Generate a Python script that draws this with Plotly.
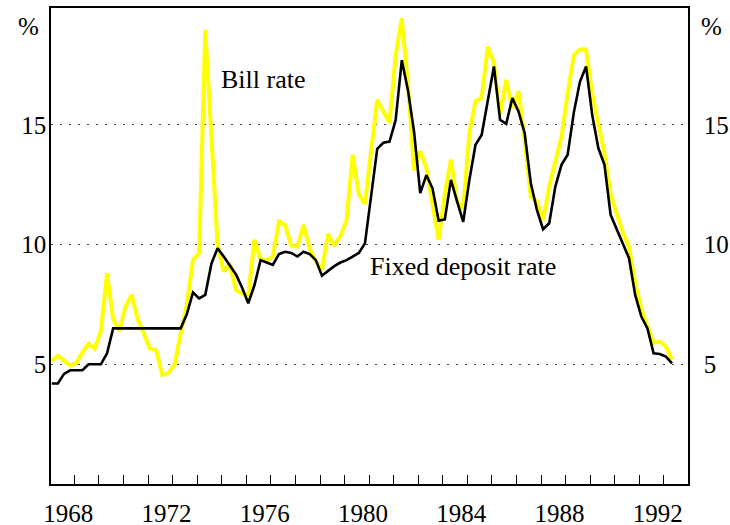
import pandas as pd
import plotly.graph_objects as go

# Quarterly observations, 1967 Q2 onwards
quarters = pd.period_range("1967Q2", periods=102, freq="Q")
x_years = [p.year + (p.quarter - 1) / 4 for p in quarters]

bill_rate = [
    5.15, 5.35, 5.15, 4.95, 5.05, 5.5, 5.85, 5.65, 6.4, 8.8,
    6.9, 6.4, 7.4, 7.9, 6.9, 6.25, 5.65, 5.6, 4.55, 4.63,
    4.97, 6.3, 7.5, 9.36, 9.64, 18.97, 14.4, 10.0, 8.87, 9.2,
    8.1, 7.95, 7.85, 10.2, 9.4, 9.35, 9.5, 10.96, 10.82, 9.95,
    9.92, 10.82, 9.85, 9.3, 8.94, 10.45, 9.95, 10.35, 11.0, 13.75,
    12.1, 11.7, 13.9, 16.05, 15.55, 15.1, 17.9, 19.45, 16.7, 13.1,
    13.9, 13.2, 11.7, 10.2, 12.1, 13.55, 11.8, 11.5, 14.65, 15.98,
    16.12, 18.27, 17.6, 15.42, 16.88, 15.7, 16.39, 14.38, 12.0, 11.8,
    11.03, 12.42, 13.47, 14.51, 16.3, 17.9, 18.15, 18.15, 16.3, 15.0,
    13.8, 12.1, 11.3, 10.5, 9.9, 8.4, 7.3, 6.6, 5.9, 5.95,
    5.75, 5.2,
]

fixed_deposit_rate = [
    4.2, 4.2, 4.6, 4.75, 4.75, 4.75, 5.0, 5.0, 5.0, 5.45,
    6.5, 6.5, 6.5, 6.5, 6.5, 6.5, 6.5, 6.5, 6.5, 6.5,
    6.5, 6.5, 7.1, 8.0, 7.75, 7.9, 9.2, 9.85, 9.5, 9.1,
    8.75, 8.2, 7.55, 8.3, 9.35, 9.25, 9.15, 9.6, 9.7, 9.65,
    9.5, 9.7, 9.6, 9.35, 8.7, 8.9, 9.1, 9.25, 9.35, 9.5,
    9.65, 10.05, 12.0, 14.0, 14.25, 14.3, 15.2, 17.7, 16.45, 14.7,
    12.15, 12.9, 12.35, 11.0, 11.05, 12.7, 11.8, 10.95, 12.7, 14.17,
    14.58, 16.05, 17.44, 15.21, 15.04, 16.12, 15.56, 14.66, 12.57, 11.45,
    10.64, 10.89, 12.42, 13.33, 13.75, 15.5, 16.8, 17.44, 15.42, 14.03,
    13.33, 11.24, 10.61, 10.0, 9.43, 7.9, 6.99, 6.5, 5.46, 5.43,
    5.32, 5.04,
]

year_labels = [1968, 1972, 1976, 1980, 1984, 1988, 1992]
tick_years = list(range(1968, 1993))
y_ticks = [5, 10, 15]

FONT = "Liberation Serif, Times New Roman, serif"
XR = [1967.22, 1993.15]
YR = [0, 19.88]

fig = go.Figure()
fig.add_trace(go.Scatter(x=x_years, y=bill_rate, mode="lines",
                         line=dict(color="#ffff00", width=4),
                         xaxis="x", yaxis="y", hoverinfo="skip", showlegend=False))
fig.add_trace(go.Scatter(x=x_years, y=fixed_deposit_rate, mode="lines",
                         line=dict(color="#000000", width=2.6),
                         xaxis="x2", yaxis="y2", hoverinfo="skip", showlegend=False))

fig.update_layout(
    width=730, height=525,
    margin=dict(l=51, r=42, t=8, b=41),
    paper_bgcolor="white", plot_bgcolor="white",
    font=dict(family=FONT, size=25, color="black"),
    xaxis=dict(range=XR, tickvals=[y + 0.17 for y in tick_years],
               ticks="inside", ticklen=9, tickwidth=1, tickcolor="black",
               showticklabels=False, showgrid=False, zeroline=False,
               showline=True, linecolor="black", linewidth=1.5, mirror=True,
               automargin=False),
    xaxis2=dict(range=XR, overlaying="x", side="bottom", anchor="y2",
                tickvals=[y - 0.08 for y in year_labels],
                ticktext=[str(y) for y in year_labels],
                ticks="", showgrid=False, zeroline=False, showline=False,
                ticklabelstandoff=12, automargin=False,
                tickfont=dict(family=FONT, size=25, color="black")),
    yaxis=dict(range=YR, tickvals=y_ticks, ticks="", showgrid=True,
               gridcolor="#444444", gridwidth=1, griddash="2px,7px",
               zeroline=False, showline=True, linecolor="black", linewidth=1.5,
               ticklabelstandoff=-2, automargin=False,
               tickfont=dict(family=FONT, size=25, color="black")),
    yaxis2=dict(range=YR, overlaying="y", side="right", anchor="x2",
                tickvals=y_ticks, ticks="", showgrid=False, zeroline=False,
                showline=True, linecolor="black", linewidth=1.5,
                ticklabelstandoff=9, automargin=False,
                tickfont=dict(family=FONT, size=25, color="black")),
    annotations=[
        dict(text="%", xref="paper", yref="paper", x=-0.015, y=0.962,
             showarrow=False, xanchor="right", yanchor="middle",
             font=dict(family=FONT, size=25)),
        dict(text="%", xref="paper", yref="paper", x=1.018, y=0.962,
             showarrow=False, xanchor="left", yanchor="middle",
             font=dict(family=FONT, size=25)),
        dict(text="Bill rate", xref="x", yref="y", x=1975.85, y=16.9,
             showarrow=False, xanchor="center", yanchor="middle",
             font=dict(family=FONT, size=26)),
        dict(text="Fixed deposit rate", xref="x", yref="y", x=1983.99, y=9.1,
             showarrow=False, xanchor="center", yanchor="middle",
             font=dict(family=FONT, size=26)),
    ],
)

# Remove the browser's default 8px page margin so the 730x525 figure fits the window exactly
fig.write_html("out.html",
               config={"displayModeBar": False},
               post_script="document.body.style.margin='0px';document.body.style.overflow='hidden';")
